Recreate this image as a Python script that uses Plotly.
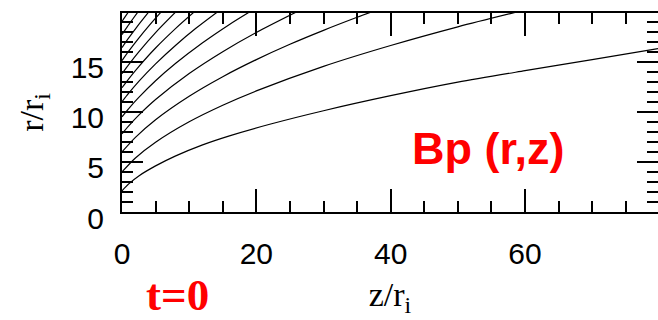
import plotly.graph_objects as go

# field lines of Bp(r,z): z/ri values and r/ri values
z_c1 = [0, 1, 2.5, 5, 8, 12, 16, 22, 30, 40, 50, 60, 70, 79.8]
r_c1 = [2.1, 2.8, 3.6, 4.6, 5.6, 6.7, 7.6, 8.75, 10.1, 11.6, 12.95, 14.1, 15.2, 16.3]
z_c2 = [0, 2, 5, 10, 15, 20, 30, 40, 50, 58.5]
r_c2 = [4.0, 5.39, 6.96, 9.0, 10.65, 12.08, 14.53, 16.61, 18.47, 19.9]
z_c3 = [0, 2, 5, 10, 15, 20, 25, 30, 35, 37.2]
r_c3 = [6.0, 7.45, 9.21, 11.55, 13.5, 15.2, 16.73, 18.12, 19.42, 19.97]
z_c4 = [0, 1, 2.5, 5, 10, 15, 20, 26.2]
r_c4 = [7.8, 8.59, 9.66, 11.22, 13.81, 15.99, 17.91, 20.03]
z_c5 = [0, 1, 2.5, 5, 8, 12, 16, 18.9]
r_c5 = [9.5, 10.32, 11.43, 13.09, 14.83, 16.88, 18.71, 19.92]
z_c6 = [0, 1, 2.5, 5, 8, 11, 14.1]
r_c6 = [11.0, 11.85, 13.03, 14.78, 16.64, 18.32, 19.9]
z_c7 = [0, 1, 2.5, 5, 8, 10.7]
r_c7 = [12.4, 13.29, 14.51, 16.36, 18.32, 19.93]
z_c8 = [0, 1, 2.5, 5, 7.9]
r_c8 = [13.8, 14.71, 15.98, 17.9, 19.89]
z_c9 = [0, 1, 2.5, 4, 5.75]
r_c9 = [15.1, 16.04, 17.35, 18.57, 19.9]
z_c10 = [0, 1, 2.2, 3.9]
r_c10 = [16.4, 17.36, 18.45, 19.89]
z_c11 = [0, 0.8, 1.5, 2.3]
r_c11 = [17.7, 18.49, 19.15, 19.89]
z_c12 = [0, 0.4, 0.9]
r_c12 = [19.0, 19.41, 19.9]

curves = [(z_c1, r_c1), (z_c2, r_c2), (z_c3, r_c3), (z_c4, r_c4), (z_c5, r_c5),
          (z_c6, r_c6), (z_c7, r_c7), (z_c8, r_c8), (z_c9, r_c9), (z_c10, r_c10),
          (z_c11, r_c11), (z_c12, r_c12)]

x_ticks = [0, 20, 40, 60]
y_ticks = [0, 5, 10, 15]

fig = go.Figure()
for zz, rr in curves:
    fig.add_trace(go.Scatter(x=zz, y=rr, mode="lines",
                             line=dict(color="black", width=1.2, shape="spline", smoothing=0.8),
                             hoverinfo="skip", showlegend=False))

fig.update_layout(
    width=658, height=320,
    margin=dict(l=122, r=0, t=13, b=108, pad=0, autoexpand=False),
    plot_bgcolor="white", paper_bgcolor="white",
    showlegend=False,
)

fig.update_xaxes(
    range=[0, 79.8], tickvals=x_ticks, ticktext=[str(v) for v in x_ticks],
    ticks="inside", ticklen=23, tickwidth=1.5, tickcolor="black",
    minor=dict(dtick=5, tick0=0, ticks="inside", ticklen=11, tickwidth=1.5, tickcolor="black"),
    showline=True, linecolor="black", linewidth=2, mirror="ticks",
    showgrid=False, zeroline=False, automargin=False,
    tickfont=dict(family="Liberation Sans", size=30, color="black"),
    ticklabelstandoff=14,
    title=dict(text="z/r<sub>i</sub>", font=dict(family="Liberation Serif", size=34, color="black"), standoff=13),
)
fig.update_yaxes(
    range=[0, 19.85], tickvals=y_ticks, ticktext=[str(v) for v in y_ticks],
    ticks="inside", ticklen=21, tickwidth=1.5, tickcolor="black",
    minor=dict(dtick=1, tick0=0, ticks="inside", ticklen=11, tickwidth=1.5, tickcolor="black"),
    showline=True, linecolor="black", linewidth=2, mirror="ticks",
    showgrid=False, zeroline=False, automargin=False,
    tickfont=dict(family="Liberation Sans", size=30, color="black"),
    ticklabelstandoff=10, ticklabelshift=6,
    title=dict(text="r/r<sub>i</sub>", font=dict(family="Liberation Serif", size=34, color="black"), standoff=17),
)

fig.add_annotation(text="<b>t=0</b>", xref="paper", yref="paper",
                   x=(177 - 122) / 536, y=(212 - 295) / 199,
                   xanchor="center", yanchor="middle", showarrow=False,
                   font=dict(family="Liberation Serif", size=45, color="red"))
fig.add_annotation(text="<b>Bp (r,z)</b>", xref="paper", yref="paper",
                   x=(488 - 122) / 536, y=(212 - 148) / 199,
                   xanchor="center", yanchor="middle", showarrow=False,
                   font=dict(family="Liberation Sans", size=45, color="red"))

fig.write_html("out.html",
               config={"displayModeBar": False},
               post_script="document.body.style.margin='0';document.body.style.overflow='hidden';")
